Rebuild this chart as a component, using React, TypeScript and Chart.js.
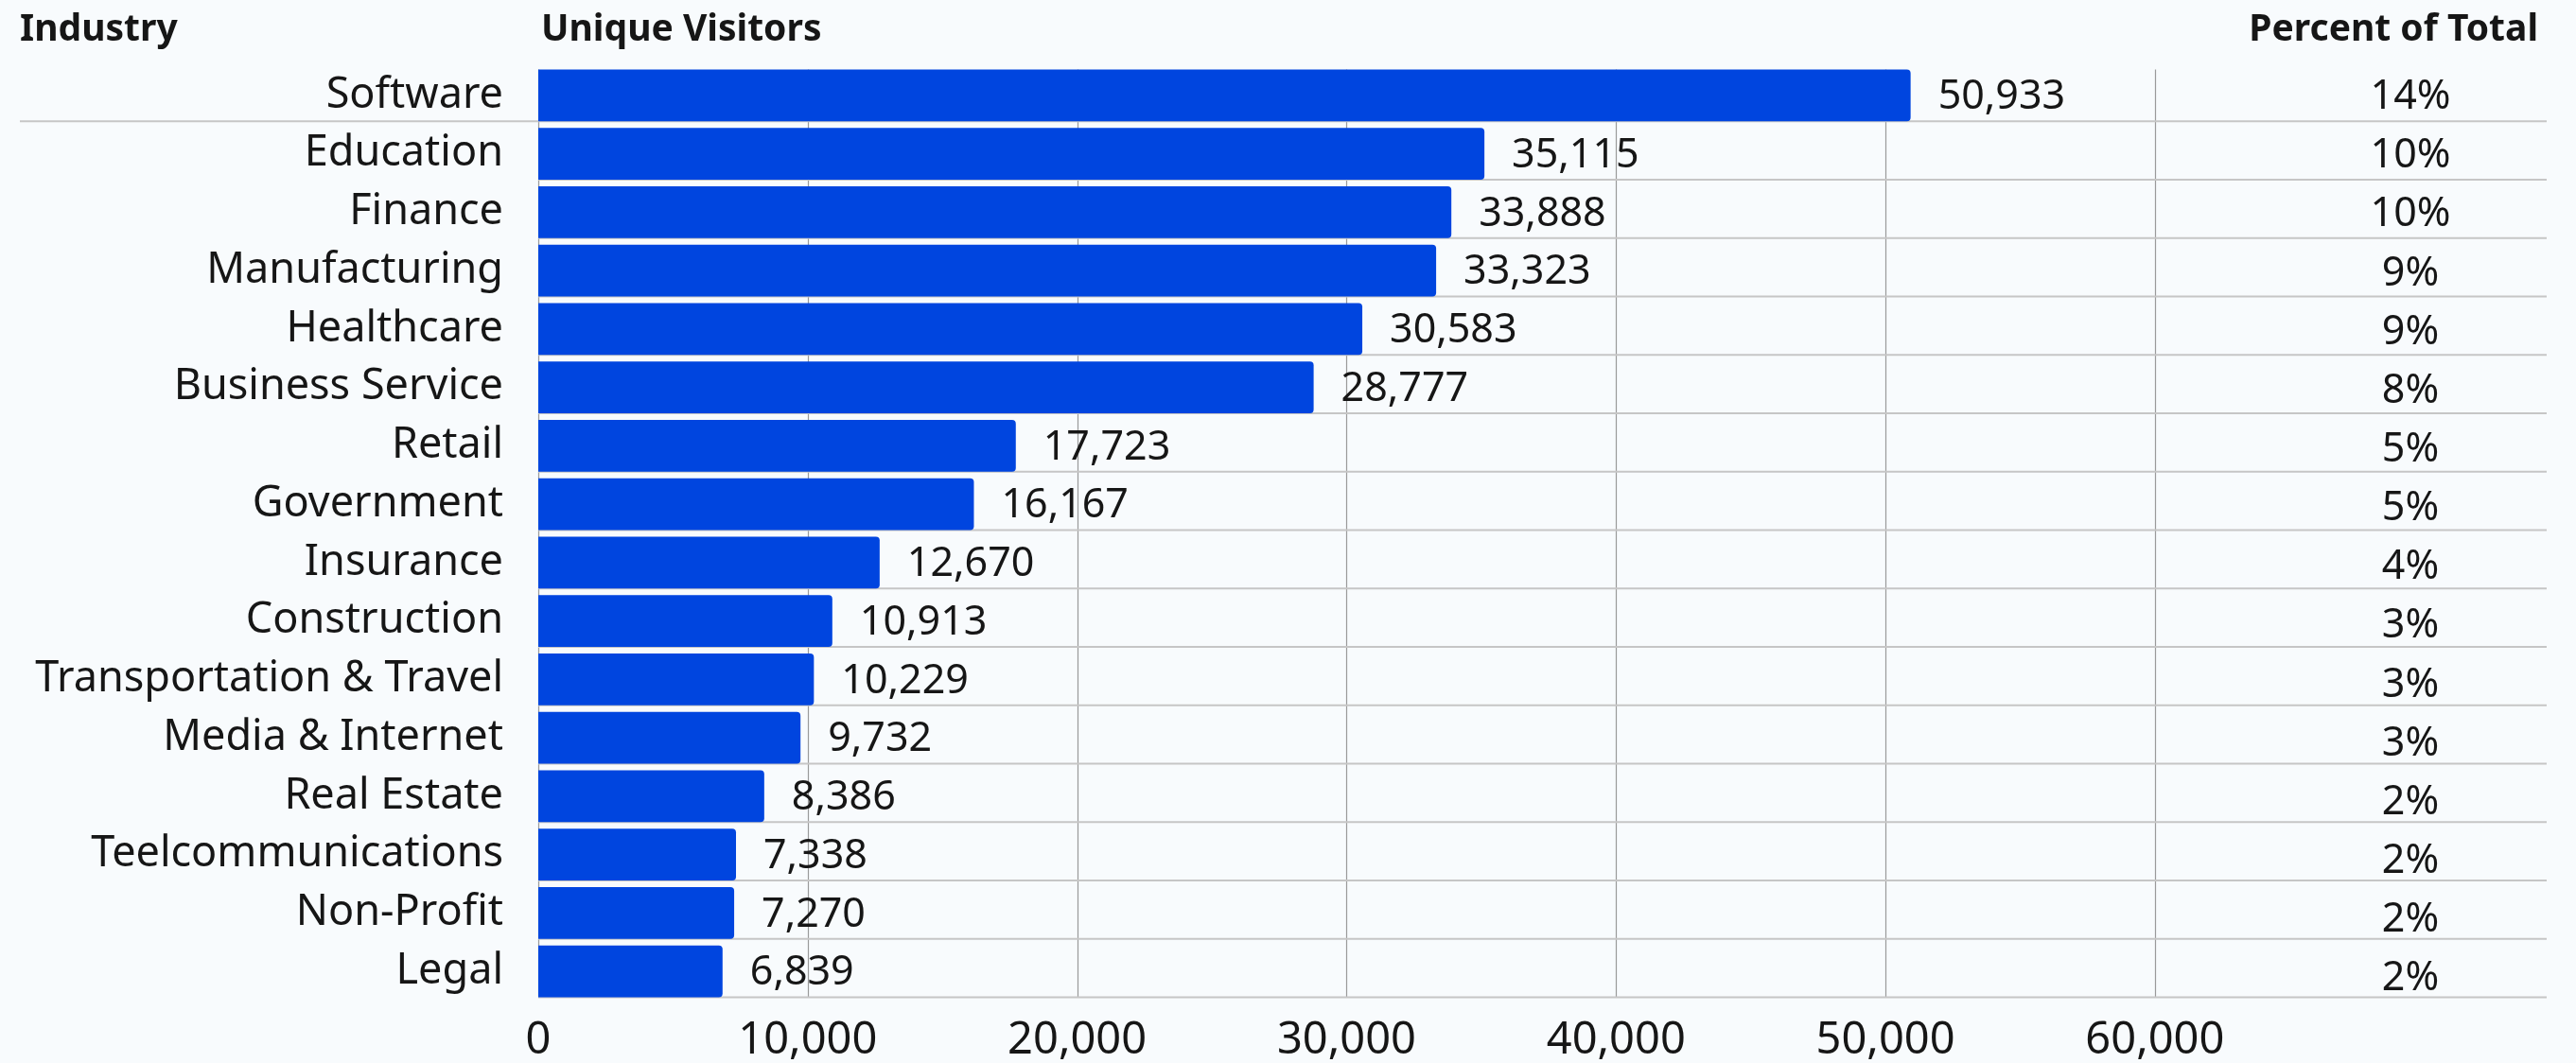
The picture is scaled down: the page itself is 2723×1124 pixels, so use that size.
import React, { useEffect, useRef } from 'react';
import { Chart, registerables } from 'chart.js';

Chart.register(...registerables);

const industries = [
  'Software',
  'Education',
  'Finance',
  'Manufacturing',
  'Healthcare',
  'Business Service',
  'Retail',
  'Government',
  'Insurance',
  'Construction',
  'Transportation & Travel',
  'Media & Internet',
  'Real Estate',
  'Teelcommunications',
  'Non-Profit',
  'Legal',
];

const visitors = [
  50933, 35115, 33888, 33323, 30583, 28777, 17723, 16167, 12670, 10913, 10229, 9732, 8386, 7338, 7270, 6839,
];

const percentOfTotal = [
  '14%', '10%', '10%', '9%', '9%', '8%', '5%', '5%', '4%', '3%', '3%', '3%', '2%', '2%', '2%', '2%',
];

const xTicks = [0, 10000, 20000, 30000, 40000, 50000, 60000];

const headerIndustry = 'Industry';
const headerVisitors = 'Unique Visitors';
const headerPercent = 'Percent of Total';

const xMax = 74540;

const FONT = "'Noto Sans', 'DejaVu Sans', sans-serif";
const TEXT = '#161616';
const BAR = '#0045df';
const BG = '#f8fbfd';

const fmt = (v: number) => v.toLocaleString('en-US');

const tablePlugin = {
  id: 'tableDecor',
  beforeDatasetsDraw(chart: any) {
    const { ctx, chartArea, scales } = chart;
    const xs = scales.x;
    const bars = chart.getDatasetMeta(0).data;
    if (!bars.length) return;
    const first = bars[0].getProps(['y', 'height'], true);
    const last = bars[bars.length - 1].getProps(['y', 'height'], true);
    const top = first.y - first.height / 2;
    const bottom = last.y + last.height / 2;

    ctx.save();
    // vertical grid lines at the x ticks
    ctx.strokeStyle = '#9a9a9a';
    ctx.lineWidth = 1.2;
    xs.ticks.forEach((t: any) => {
      const px = Math.round(xs.getPixelForValue(t.value)) + 0.5;
      ctx.beginPath();
      ctx.moveTo(px, top);
      ctx.lineTo(px, bottom);
      ctx.stroke();
    });
    // horizontal row separators at bar bottoms
    ctx.strokeStyle = '#c6c6c6';
    ctx.lineWidth = 2;
    bars.forEach((b: any, i: number) => {
      const p = b.getProps(['y', 'height'], true);
      const yy = p.y + p.height / 2;
      ctx.beginPath();
      ctx.moveTo(i === 0 ? 21 : chartArea.left, yy);
      ctx.lineTo(chartArea.right, yy);
      ctx.stroke();
    });
    ctx.restore();
  },
  afterDraw(chart: any) {
    const { ctx, chartArea } = chart;
    const bars = chart.getDatasetMeta(0).data;
    ctx.save();
    ctx.fillStyle = TEXT;
    ctx.textBaseline = 'middle';

    // value labels
    ctx.font = `43px ${FONT}`;
    ctx.textAlign = 'left';
    bars.forEach((b: any, i: number) => {
      const p = b.getProps(['x', 'y'], true);
      ctx.fillText(fmt(visitors[i]), p.x + 29, p.y + 2);
    });

    // percent column
    ctx.textAlign = 'center';
    bars.forEach((b: any, i: number) => {
      const p = b.getProps(['y'], true);
      ctx.fillText(percentOfTotal[i], chartArea.right - 144, p.y + 2 + i * 0.4);
    });

    // headers
    ctx.font = `bold 39px ${FONT}`;
    ctx.textAlign = 'left';
    ctx.fillText(headerIndustry, 21, 32);
    ctx.fillText(headerVisitors, chartArea.left + 3, 32);
    ctx.textAlign = 'right';
    ctx.fillText(headerPercent, chartArea.right - 9, 32);
    ctx.restore();
  },
};

export default function App() {
  const canvasRef = useRef<HTMLCanvasElement | null>(null);

  useEffect(() => {
    if (!canvasRef.current) return;
    const chart = new Chart(canvasRef.current, {
      type: 'bar',
      data: {
        labels: industries,
        datasets: [
          {
            data: visitors,
            backgroundColor: BAR,
            borderWidth: 0,
            borderRadius: 4,
            categoryPercentage: 1,
            barPercentage: 0.89,
          },
        ],
      },
      options: {
        indexAxis: 'y',
        animation: false,
        responsive: true,
        maintainAspectRatio: false,
        layout: { padding: { top: 70, right: 31, left: 0, bottom: 0 } },
        plugins: {
          legend: { display: false },
          tooltip: { enabled: false },
          title: { display: false },
        },
        scales: {
          x: {
            type: 'linear',
            min: 0,
            max: xMax,
            grid: { display: false, drawTicks: false },
            border: { display: false },
            afterBuildTicks: (s: any) => {
              s.ticks = xTicks.map((v) => ({ value: v }));
            },
            afterFit: (s: any) => {
              s.height = 66;
            },
            ticks: {
              autoSkip: false,
              maxRotation: 0,
              padding: 14,
              color: TEXT,
              font: { family: FONT, size: 47 },
              callback: (v: any) => fmt(Number(v)),
            },
          },
          y: {
            type: 'category',
            grid: { display: false, drawTicks: false },
            border: { display: false },
            afterFit: (s: any) => {
              s.width = 569;
            },
            ticks: {
              padding: 37,
              color: TEXT,
              autoSkip: false,
              font: { family: FONT, size: 45 },
            },
          },
        },
      },
      plugins: [tablePlugin],
    });
    return () => chart.destroy();
  }, []);

  return (
    <div style={{ position: 'fixed', left: 0, top: 0, width: '100vw', height: '100vh', background: BG }}>
      <canvas ref={canvasRef} />
    </div>
  );
}
